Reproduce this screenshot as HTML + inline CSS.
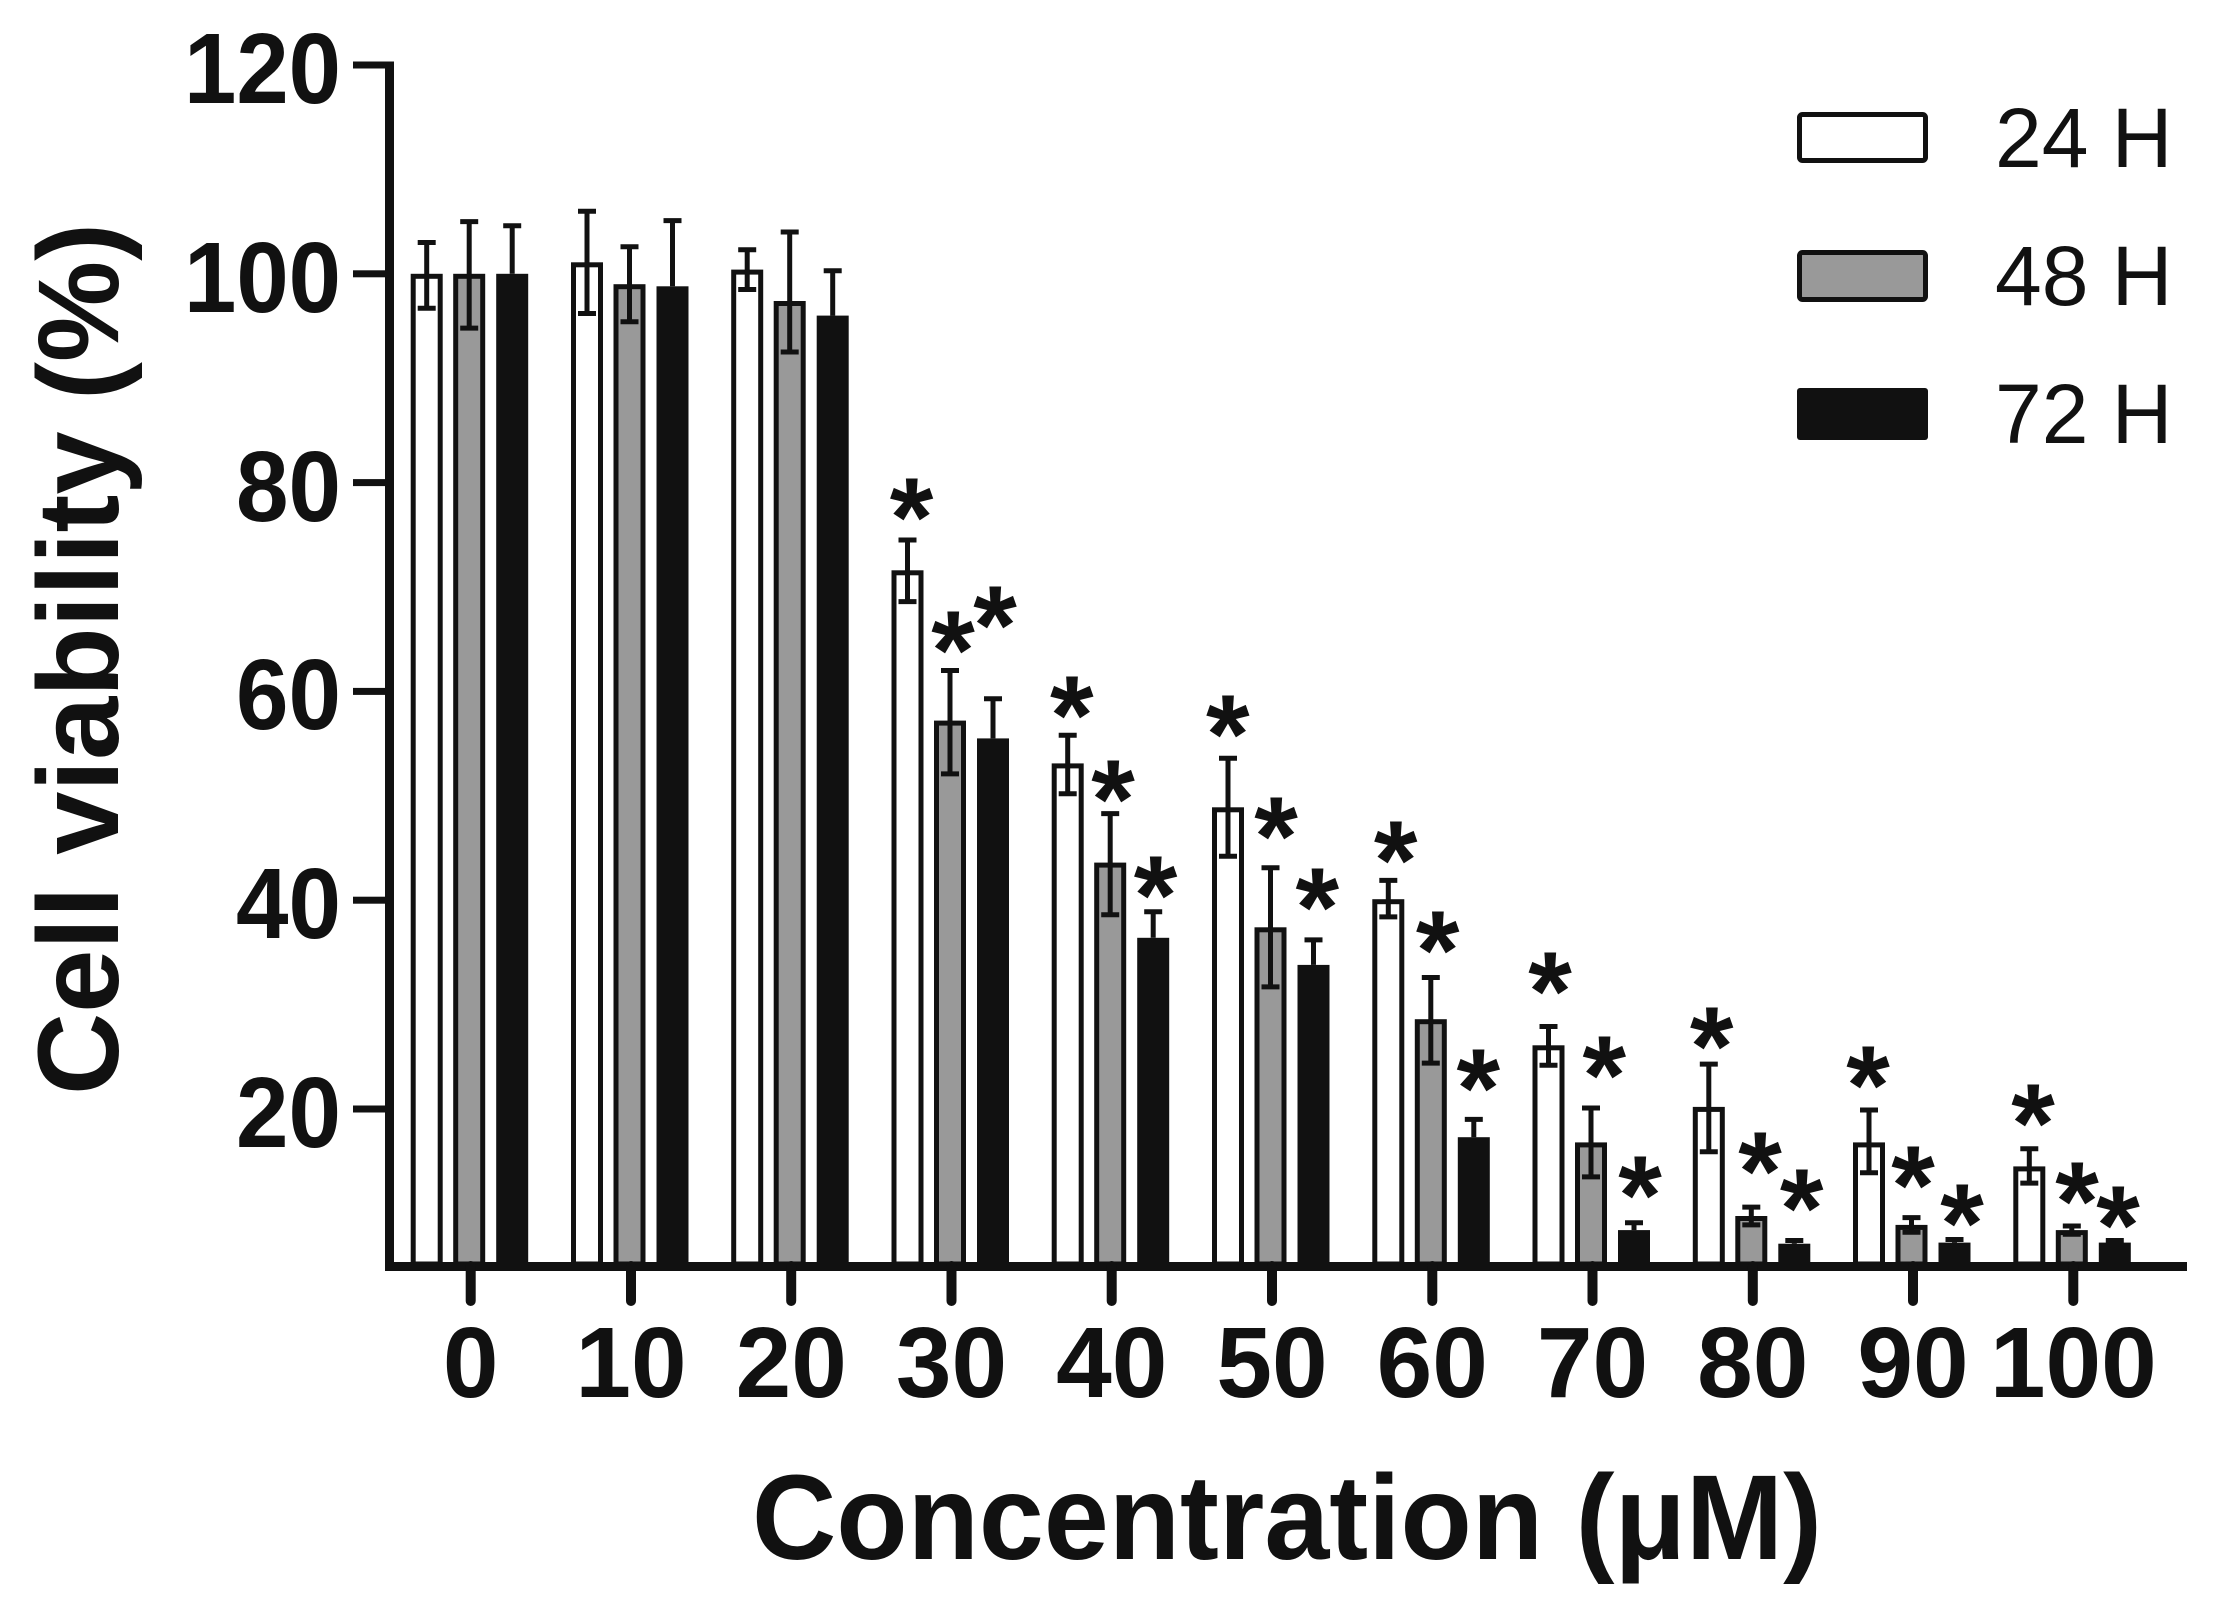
<!DOCTYPE html>
<html><head><meta charset="utf-8"><style>
html,body{margin:0;padding:0;background:#fff;}
svg{display:block;}
text{font-family:"Liberation Sans",Arial,sans-serif;fill:#111;}
</style></head><body>
<svg width="2225" height="1604" viewBox="0 0 2225 1604" xmlns="http://www.w3.org/2000/svg">
<rect x="0" y="0" width="2225" height="1604" fill="#fff"/>

<!-- Bars -->
<g stroke="#111" stroke-width="5">
<rect x="413.2" y="276.3" width="27" height="987.7" fill="#fff"/>
<rect x="455.7" y="276.3" width="27" height="987.7" fill="#999"/>
<rect x="573.5" y="264.8" width="27" height="999.2" fill="#fff"/>
<rect x="616" y="286.7" width="27" height="977.3" fill="#999"/>
<rect x="733.7" y="272.1" width="27" height="991.9" fill="#fff"/>
<rect x="776.2" y="303.5" width="27" height="960.5" fill="#999"/>
<rect x="894" y="572.8" width="27" height="691.2" fill="#fff"/>
<rect x="936.5" y="723.1" width="27" height="540.9" fill="#999"/>
<rect x="1054.2" y="765.9" width="27" height="498.1" fill="#fff"/>
<rect x="1096.7" y="865.1" width="27" height="398.9" fill="#999"/>
<rect x="1214.5" y="809.8" width="27" height="454.2" fill="#fff"/>
<rect x="1257" y="929.8" width="27" height="334.2" fill="#999"/>
<rect x="1374.8" y="901.7" width="27" height="362.3" fill="#fff"/>
<rect x="1417.3" y="1021.7" width="27" height="242.3" fill="#999"/>
<rect x="1535" y="1047.8" width="27" height="216.2" fill="#fff"/>
<rect x="1577.5" y="1144.9" width="27" height="119.1" fill="#999"/>
<rect x="1695.3" y="1109.4" width="27" height="154.6" fill="#fff"/>
<rect x="1737.8" y="1218.5" width="27" height="45.5" fill="#999"/>
<rect x="1855.5" y="1144.9" width="27" height="119.1" fill="#fff"/>
<rect x="1898" y="1227.4" width="27" height="36.6" fill="#999"/>
<rect x="2015.8" y="1168.9" width="27" height="95.1" fill="#fff"/>
<rect x="2058.3" y="1232.6" width="27" height="31.4" fill="#999"/>
</g>
<g fill="#111">
<rect x="496.2" y="273.8" width="32" height="992.2"/>
<rect x="656.5" y="286.3" width="32" height="979.7"/>
<rect x="816.7" y="315.6" width="32" height="950.4"/>
<rect x="977" y="738.4" width="32" height="527.6"/>
<rect x="1137.2" y="937.8" width="32" height="328.2"/>
<rect x="1297.5" y="964.9" width="32" height="301.1"/>
<rect x="1457.8" y="1137.2" width="32" height="128.8"/>
<rect x="1618" y="1230.1" width="32" height="35.9"/>
<rect x="1778.3" y="1243.7" width="32" height="22.3"/>
<rect x="1938.5" y="1242.6" width="32" height="23.4"/>
<rect x="2098.8" y="1242.6" width="32" height="23.4"/>
</g>

<!-- Error bars -->
<path fill="none" stroke="#111" stroke-width="5" d="
M426.7 242.5V308.3M417.7 242.5H435.7M417.7 308.3H435.7
M469.2 221.6V328.1M460.2 221.6H478.2M460.2 328.1H478.2
M512.2 225.8V273.8M503.2 225.8H521.2
M587 211.2V313.5M578 211.2H596M578 313.5H596
M629.5 246.7V321.8M620.5 246.7H638.5M620.5 321.8H638.5
M672.5 220.6V286.3M663.5 220.6H681.5
M747.2 249.8V289.5M738.2 249.8H756.2M738.2 289.5H756.2
M789.7 232V352M780.7 232H798.7M780.7 352H798.7
M832.7 270.7V315.6M823.7 270.7H841.7
M907.5 540V601.6M898.5 540H916.5M898.5 601.6H916.5
M950 670.5V773.9M941 670.5H959M941 773.9H959
M993 698.7V738.4M984 698.7H1002
M1067.7 735.3V793.7M1058.7 735.3H1076.7M1058.7 793.7H1076.7
M1110.2 813.6V914.8M1101.2 813.6H1119.2M1101.2 914.8H1119.2
M1153.2 911.7V937.8M1144.2 911.7H1162.2
M1228 758.2V856.3M1219 758.2H1237M1219 856.3H1237
M1270.5 867.8V986.9M1261.5 867.8H1279.5M1261.5 986.9H1279.5
M1313.5 939.9V964.9M1304.5 939.9H1322.5
M1388.3 880.4V916.9M1379.3 880.4H1397.3M1379.3 916.9H1397.3
M1430.8 977.5V1063.1M1421.8 977.5H1439.8M1421.8 1063.1H1439.8
M1473.8 1119.4V1137.2M1464.8 1119.4H1482.8
M1548.5 1026.5V1065.2M1539.5 1026.5H1557.5M1539.5 1065.2H1557.5
M1591 1108V1176.9M1582 1108H1600M1582 1176.9H1600
M1634 1222.8V1230.1M1625 1222.8H1643
M1708.8 1064.1V1151.8M1699.8 1064.1H1717.8M1699.8 1151.8H1717.8
M1751.3 1207.1V1224.9M1742.3 1207.1H1760.3M1742.3 1224.9H1760.3
M1794.3 1240.5V1243.7M1785.3 1240.5H1803.3
M1869 1110V1172.7M1860 1110H1878M1860 1172.7H1878
M1911.5 1217.6V1232.2M1902.5 1217.6H1920.5M1902.5 1232.2H1920.5
M1954.5 1239.5V1242.6M1945.5 1239.5H1963.5
M2029.3 1148.7V1183.1M2020.3 1148.7H2038.3M2020.3 1183.1H2038.3
M2071.8 1226V1234.3M2062.8 1226H2080.8M2062.8 1234.3H2080.8
M2114.8 1240.5V1242.6M2105.8 1240.5H2123.8
"/>

<!-- Axes -->
<rect x="385" y="61.5" width="9" height="1209.5" fill="#111"/>
<rect x="385" y="1262" width="1802" height="9" fill="#111"/>
<g fill="#111">
<rect x="353" y="61.5" width="36" height="7"/>
<rect x="353" y="270.3" width="36" height="7"/>
<rect x="353" y="479.1" width="36" height="7"/>
<rect x="353" y="687.9" width="36" height="7"/>
<rect x="353" y="896.7" width="36" height="7"/>
<rect x="353" y="1105.5" width="36" height="7"/>
</g>
<g stroke="#111" stroke-width="10" stroke-linecap="round">
<line x1="470.7" y1="1266" x2="470.7" y2="1301"/>
<line x1="631" y1="1266" x2="631" y2="1301"/>
<line x1="791.2" y1="1266" x2="791.2" y2="1301"/>
<line x1="951.5" y1="1266" x2="951.5" y2="1301"/>
<line x1="1111.7" y1="1266" x2="1111.7" y2="1301"/>
<line x1="1272" y1="1266" x2="1272" y2="1301"/>
<line x1="1432.3" y1="1266" x2="1432.3" y2="1301"/>
<line x1="1592.5" y1="1266" x2="1592.5" y2="1301"/>
<line x1="1752.8" y1="1266" x2="1752.8" y2="1301"/>
<line x1="1913" y1="1266" x2="1913" y2="1301"/>
<line x1="2073.3" y1="1266" x2="2073.3" y2="1301"/>
</g>

<!-- Y tick labels -->
<g font-size="100" font-weight="bold" text-anchor="end" lengthAdjust="spacingAndGlyphs">
<text x="341" y="103" textLength="157" lengthAdjust="spacingAndGlyphs">120</text>
<text x="341" y="312" textLength="157" lengthAdjust="spacingAndGlyphs">100</text>
<text x="341" y="521" textLength="105" lengthAdjust="spacingAndGlyphs">80</text>
<text x="341" y="729" textLength="105" lengthAdjust="spacingAndGlyphs">60</text>
<text x="341" y="938" textLength="105" lengthAdjust="spacingAndGlyphs">40</text>
<text x="341" y="1147" textLength="105" lengthAdjust="spacingAndGlyphs">20</text>
</g>

<!-- X tick labels -->
<g font-size="100" font-weight="bold" text-anchor="middle">
<text x="470.7" y="1397">0</text>
<text x="631" y="1397">10</text>
<text x="791.2" y="1397">20</text>
<text x="951.5" y="1397">30</text>
<text x="1111.7" y="1397">40</text>
<text x="1272" y="1397">50</text>
<text x="1432.3" y="1397">60</text>
<text x="1592.5" y="1397">70</text>
<text x="1752.8" y="1397">80</text>
<text x="1913" y="1397">90</text>
<text x="2073.3" y="1397">100</text>
</g>

<!-- Asterisks -->
<g font-size="112" font-weight="bold" text-anchor="middle">
<text x="911.6" y="556">*</text>
<text x="953" y="689">*</text>
<text x="995" y="664">*</text>
<text x="1071.8" y="754">*</text>
<text x="1113" y="838">*</text>
<text x="1155.5" y="934">*</text>
<text x="1227.8" y="773">*</text>
<text x="1276" y="875">*</text>
<text x="1317.3" y="946">*</text>
<text x="1395.7" y="899">*</text>
<text x="1437.7" y="989">*</text>
<text x="1478.3" y="1127">*</text>
<text x="1550" y="1030">*</text>
<text x="1604.3" y="1114">*</text>
<text x="1640" y="1234">*</text>
<text x="1711.7" y="1085">*</text>
<text x="1760" y="1210">*</text>
<text x="1801.7" y="1247">*</text>
<text x="1868" y="1124">*</text>
<text x="1913" y="1224">*</text>
<text x="1962" y="1262">*</text>
<text x="2033" y="1162">*</text>
<text x="2077" y="1240">*</text>
<text x="2118" y="1264">*</text>
</g>

<!-- Legend -->
<rect x="1799.5" y="114.5" width="126" height="46" rx="3" fill="#fff" stroke="#111" stroke-width="5"/>
<rect x="1799.5" y="252.5" width="126" height="47" rx="3" fill="#999" stroke="#111" stroke-width="5"/>
<rect x="1797" y="388" width="131" height="52" rx="3" fill="#111"/>
<g font-size="84">
<text x="1995" y="167">24 H</text>
<text x="1995" y="305">48 H</text>
<text x="1995" y="443">72 H</text>
</g>

<!-- Axis titles -->
<text transform="translate(118,659) rotate(-90)" text-anchor="middle" font-size="115" font-weight="bold" textLength="872" lengthAdjust="spacingAndGlyphs">Cell viability (%)</text>
<text x="1287" y="1559" text-anchor="middle" font-size="121" font-weight="bold" textLength="1070" lengthAdjust="spacingAndGlyphs">Concentration (μM)</text>
</svg>
</body></html>
